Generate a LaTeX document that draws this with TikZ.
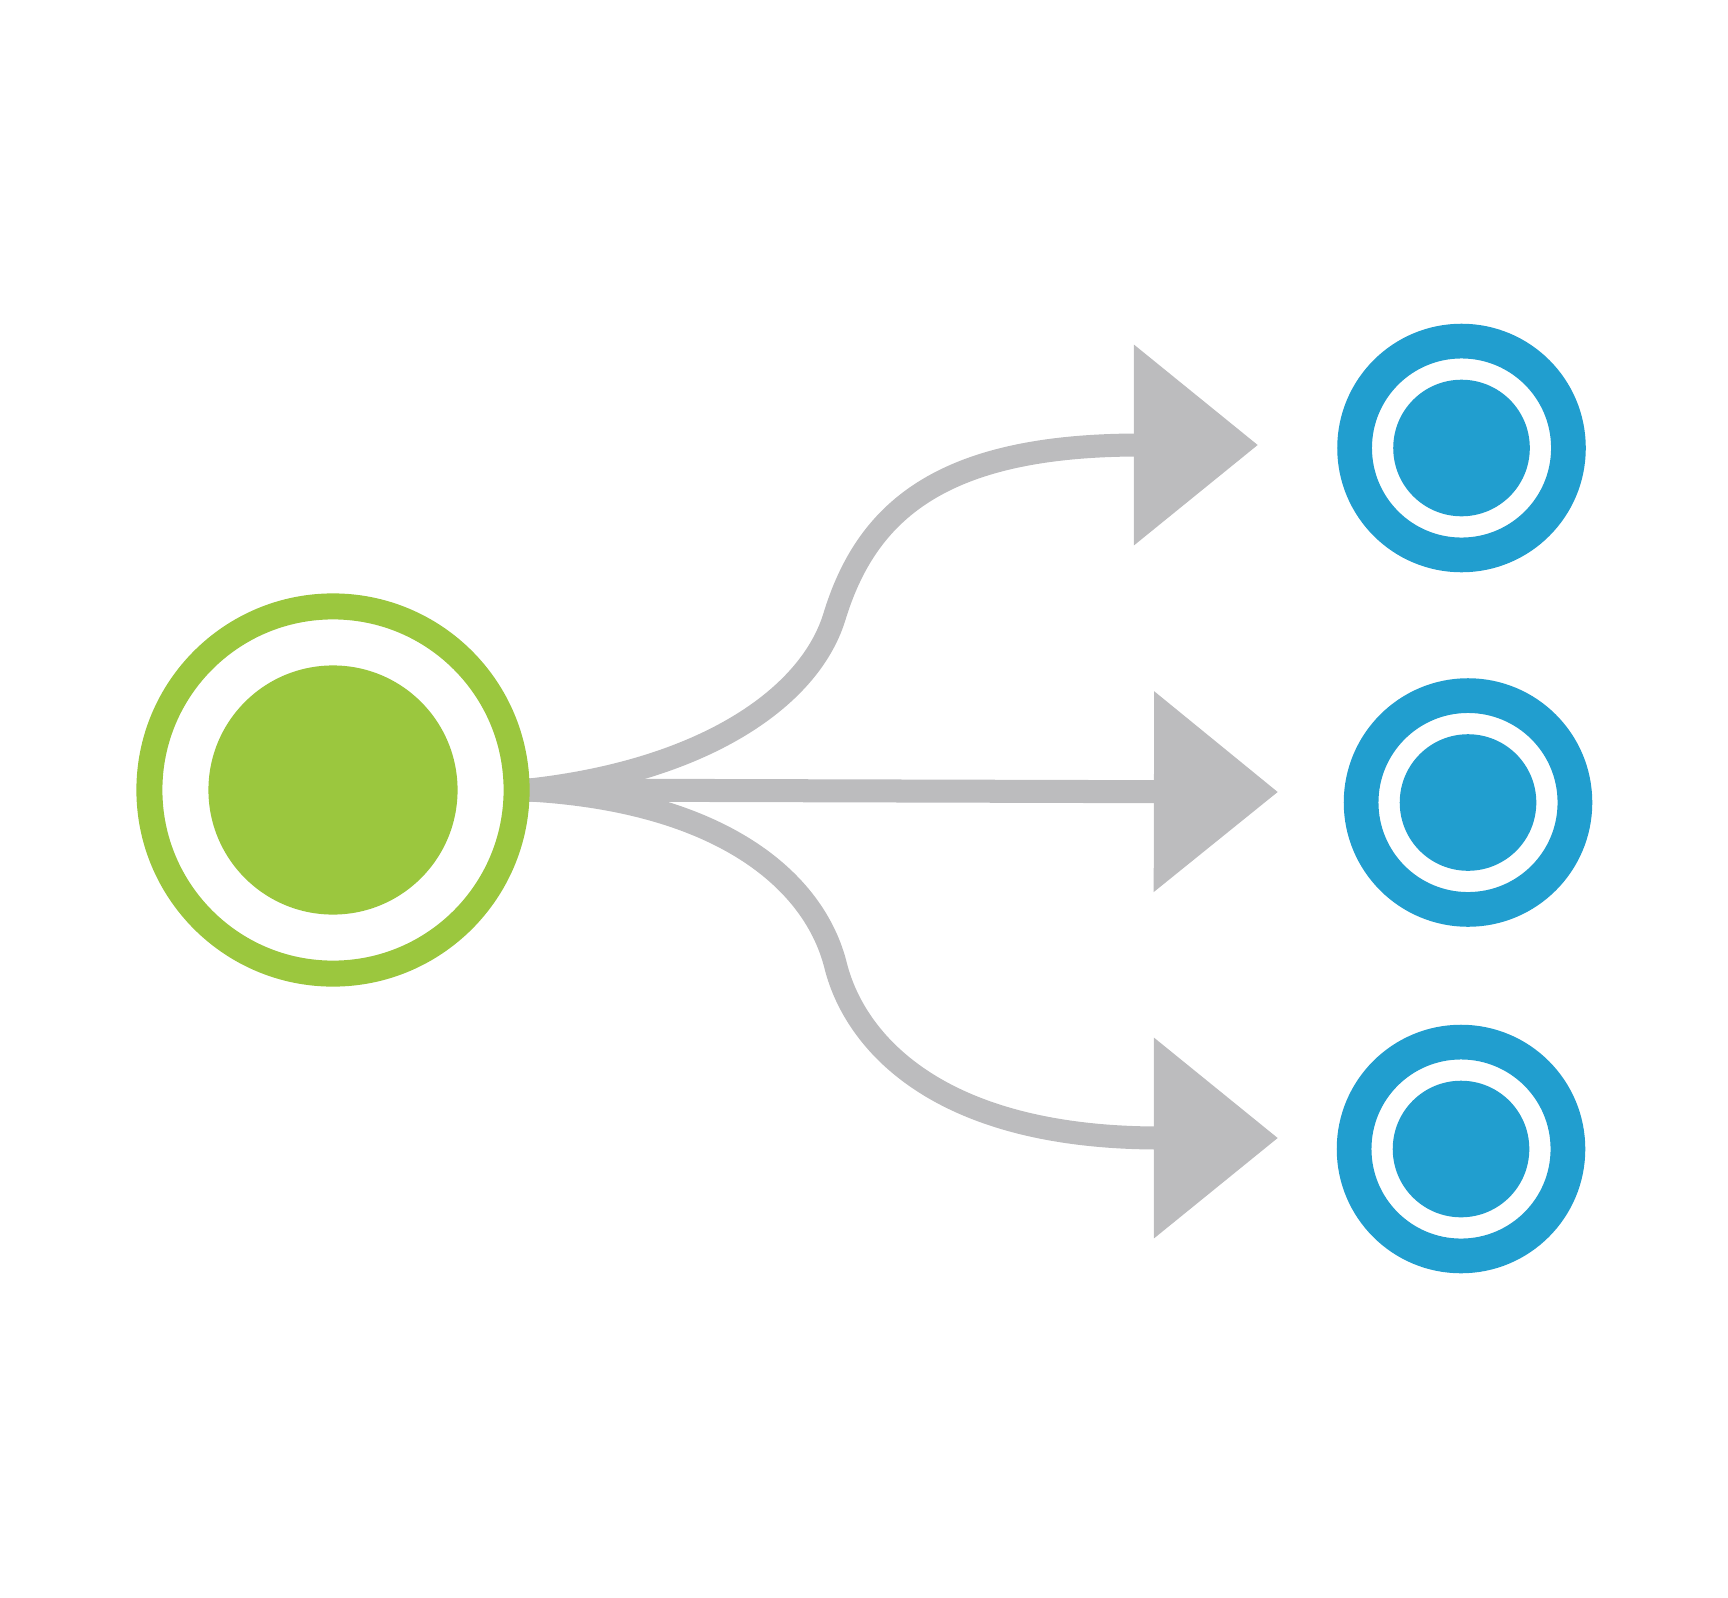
\documentclass[tikz,border=0pt]{standalone}
\usetikzlibrary{arrows.meta,backgrounds}
\definecolor{leaf}{RGB}{155,199,62}
\definecolor{sky}{RGB}{33,158,207}
\definecolor{ash}{RGB}{188,188,190}
\begin{document}
\begin{tikzpicture}
[x=0.01cm,y=-0.01cm,every node/.style={circle,inner sep=0pt},
 flow/.style={draw=ash,line width=0.23cm,shorten <=-0.04cm,-{Triangle[length=1.24cm,width=1.95cm]}}]
\useasboundingbox (0,0) rectangle (1728,1597);
\node[draw=leaf,line width=0.26cm,minimum size=3.67cm] (s) at (333,790) {};
\node[fill=leaf,minimum size=2.49cm] (c) at (333,790) {};
\node[draw=sky,line width=0.347cm,minimum size=2.137cm] (a) at (1461.5,448) {};
\node[draw=sky,line width=0.347cm,minimum size=2.137cm] (b) at (1468,802.5) {};
\node[draw=sky,line width=0.347cm,minimum size=2.137cm] (d) at (1461,1149) {};
\node[fill=sky,minimum size=1.365cm] (a1) at (1461.5,448) {};
\node[fill=sky,minimum size=1.365cm] (b1) at (1468,802.5) {};
\node[fill=sky,minimum size=1.365cm] (d1) at (1461,1149) {};
\coordinate (t1) at (1258,445);
\coordinate (t2) at (1278,792);
\coordinate (t3) at (1278,1138);
\begin{scope}[on background layer]
\draw[flow] (s.east) .. controls (700,772) and (808,700) .. (834,618) .. controls (866,512) and (940,445) .. (t1);
\draw[flow] (s.east) -- (t2);
\draw[flow] (s.east) .. controls (720,800) and (815,880) .. (836,967) .. controls (855,1040) and (935,1138) .. (t3);
\end{scope}
\end{tikzpicture}
\end{document}
